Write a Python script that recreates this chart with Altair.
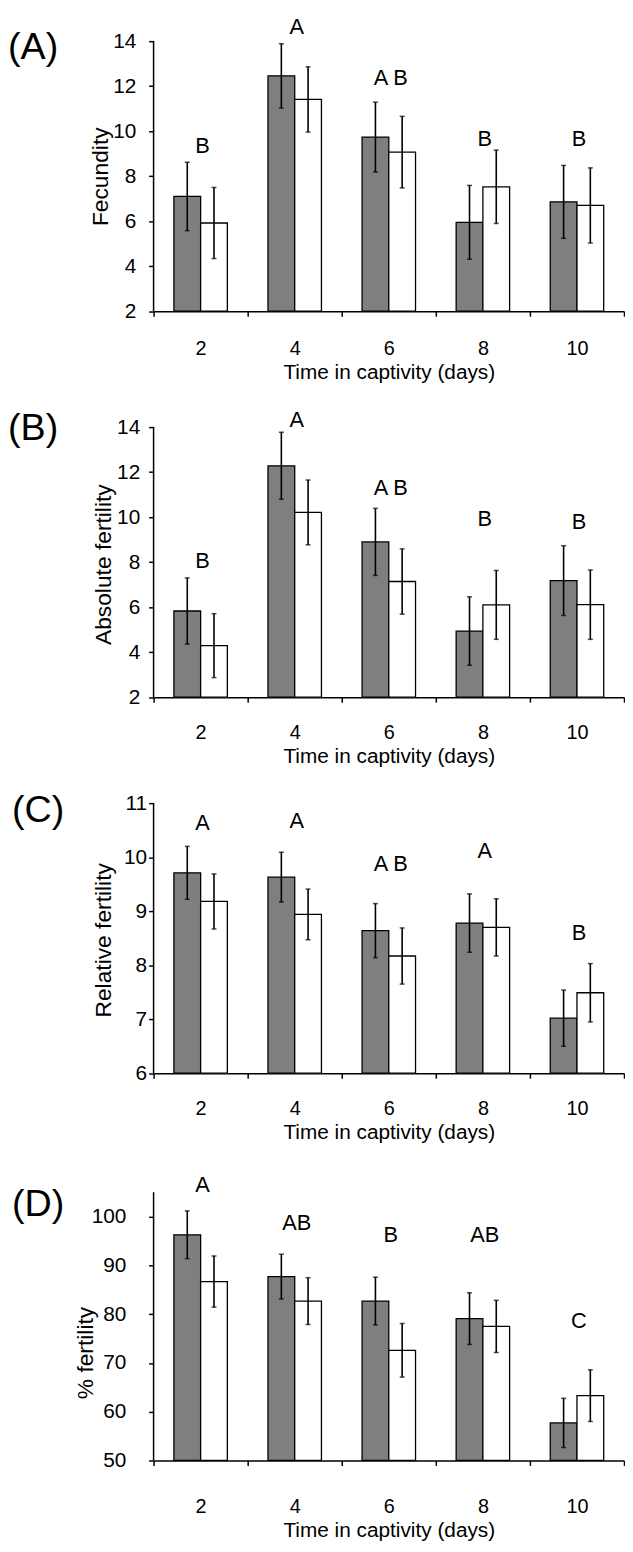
import altair as alt
import pandas as pd

FONT = "Liberation Sans"
days = ["2", "4", "6", "8", "10"]
groups = ["dark", "white"]

# Panel A - Fecundity
fec_dark = [7.10, 12.46, 9.74, 5.95, 6.86]
fec_dark_se = [1.52, 1.43, 1.55, 1.64, 1.62]
fec_white = [5.92, 11.41, 9.07, 7.53, 6.70]
fec_white_se = [1.58, 1.45, 1.59, 1.63, 1.67]
fec_letters = ["B", "A", "A B", "B", "B"]
fec_letter_y = [9.02, 14.33, 12.05, 9.33, 9.33]

# Panel B - Absolute fertility
abs_dark = [5.83, 12.28, 8.90, 4.94, 7.18]
abs_dark_se = [1.47, 1.49, 1.49, 1.52, 1.55]
abs_white = [4.29, 10.21, 7.14, 6.10, 6.11]
abs_white_se = [1.42, 1.44, 1.45, 1.53, 1.54]
abs_letters = ["B", "A", "A B", "B", "B"]
abs_letter_y = [7.75, 14.01, 10.99, 9.62, 9.47]

# Panel C - Relative fertility
rel_dark = [9.71, 9.63, 8.64, 8.78, 7.02]
rel_dark_se = [0.49, 0.46, 0.50, 0.54, 0.52]
rel_white = [9.18, 8.94, 8.17, 8.70, 7.49]
rel_white_se = [0.51, 0.47, 0.52, 0.53, 0.54]
rel_letters = ["A", "A", "A B", "A", "B"]
rel_letter_y = [10.51, 10.54, 9.74, 9.98, 8.46]

# Panel D - % fertility
pct_dark = [96.3, 87.7, 82.7, 79.1, 57.7]
pct_dark_se = [4.9, 4.6, 4.9, 5.3, 5.05]
pct_white = [86.7, 82.7, 72.6, 77.5, 63.3]
pct_white_se = [5.25, 4.8, 5.5, 5.35, 5.3]
pct_letters = ["A", "AB", "B", "AB", "C"]
pct_letter_y = [105.1, 97.3, 94.8, 94.8, 77.2]


def panel(dark, dark_se, white, white_se, letters, letter_y, ymin, ytop, yscale_top,
          ticks, ytitle, height, label, label_x, label_y, ylab_pad, ytitle_x, ytitle_y,
          xlab_pad, xtitle_y):
    rows = []
    for i, d in enumerate(days):
        rows.append(dict(day=d, group="dark", mean=dark[i], lo=dark[i] - dark_se[i],
                         hi=dark[i] + dark_se[i], base=ymin))
        rows.append(dict(day=d, group="white", mean=white[i], lo=white[i] - white_se[i],
                         hi=white[i] + white_se[i], base=ymin))
    df = pd.DataFrame(rows)
    ldf = pd.DataFrame(dict(day=days, letter=letters, ly=letter_y))
    adf = pd.DataFrame(dict(y0=[ymin], y1=[ytop]))
    pdf = pd.DataFrame(dict(t=[label]))

    xscale = alt.Scale(domain=days, paddingInner=0, paddingOuter=0)
    yscale = alt.Scale(domain=[ymin, yscale_top], zero=False, nice=False)
    offscale = alt.Scale(domain=groups, paddingInner=0, paddingOuter=0.76)

    xaxis = alt.Axis(title="Time in captivity (days)", tickBand="extent", labelAngle=0,
                     labelFontSize=20, labelPadding=xlab_pad, labelBaseline="alphabetic",
                     titleFontSize=21, titleFontWeight="normal", titleY=xtitle_y,
                     titleBaseline="alphabetic", tickSize=5, tickWidth=1.5,
                     domainWidth=1.5, domainColor="black", tickColor="black",
                     labelColor="black", titleColor="black", grid=False, labelFont=FONT,
                     titleFont=FONT)
    yaxis = alt.Axis(values=ticks, title=ytitle, domain=False, tickSize=5, tickWidth=1.5,
                     tickColor="black", labelColor="black", titleColor="black",
                     labelFontSize=21, labelPadding=ylab_pad, titleFontSize=23,
                     titleFontWeight="normal", titleX=ytitle_x, titleY=ytitle_y,
                     titleBaseline="alphabetic", grid=False, format="d",
                     labelFont=FONT, titleFont=FONT)

    def X():
        return alt.X("day:N", sort=days, scale=xscale, axis=xaxis)

    def Y(f):
        return alt.Y(f, scale=yscale, axis=yaxis)

    off_enc = alt.XOffset("group:N", scale=offscale)

    bars = alt.Chart(df).mark_bar(stroke="black", strokeWidth=1.3).encode(
        x=X(),
        xOffset=off_enc,
        y=Y("mean:Q"),
        y2="base:Q",
        fill=alt.Fill("group:N", scale=alt.Scale(domain=groups, range=["#7f7f7f", "#ffffff"]),
                      legend=None),
    )
    err = alt.Chart(df).mark_rule(color="black", strokeWidth=1.6).encode(
        x=X(), xOffset=off_enc, y=Y("lo:Q"), y2="hi:Q")
    cap_lo = alt.Chart(df).mark_tick(color="black", thickness=1.5, size=5, orient="horizontal").encode(
        x=X(), xOffset=off_enc, y=Y("lo:Q"))
    cap_hi = alt.Chart(df).mark_tick(color="black", thickness=1.5, size=5, orient="horizontal").encode(
        x=X(), xOffset=off_enc, y=Y("hi:Q"))
    let = alt.Chart(ldf).mark_text(fontSize=22, baseline="alphabetic", dx=2, font=FONT,
                                   color="black").encode(
        x=X(), y=Y("ly:Q"), text="letter:N")
    axline = alt.Chart(adf).mark_rule(color="black", strokeWidth=1.5).encode(
        x=alt.value(0), y=Y("y0:Q"), y2="y1:Q")
    plab = alt.Chart(pdf).mark_text(fontSize=38, align="left", baseline="alphabetic",
                                    font=FONT, color="black").encode(
        x=alt.value(label_x), y=alt.value(label_y), text="t:N")

    return alt.layer(bars, err, cap_lo, cap_hi, let, axline, plab).properties(
        width=475, height=height)


pA = panel(fec_dark, fec_dark_se, fec_white, fec_white_se, fec_letters, fec_letter_y,
           2, 14, 14, [2, 4, 6, 8, 10, 12, 14], "Fecundity", 272.7, "(A)", -147, 18,
           13, -47, 136.4, 39, 67.5)
pB = panel(abs_dark, abs_dark_se, abs_white, abs_white_se, abs_letters, abs_letter_y,
           2, 14, 14.4405, [2, 4, 6, 8, 10, 12, 14], "Absolute fertility", 282.7, "(B)",
           -147, 23, 9, -44, 148.4, 37, 65.5)
pC = panel(rel_dark, rel_dark_se, rel_white, rel_white_se, rel_letters, rel_letter_y,
           6, 11, 11, [6, 7, 8, 9, 10, 11], "Relative fertility", 272.7, "(C)",
           -143, 19, 2, -44, 138, 37, 65.5)
pD = panel(pct_dark, pct_dark_se, pct_white, pct_white_se, pct_letters, pct_letter_y,
           50, 105, 107.7, [50, 60, 70, 80, 90, 100], "% fertility", 284.0, "(D)",
           -143, 37, 23, -62, 175, 48, 76.5)

chart = alt.vconcat(pA, pB, pC, pD, spacing=106.7, bounds="flush").properties(
    padding={"left": 0, "top": 0, "right": 0, "bottom": 0}
).configure(font=FONT).configure_view(stroke=None)

chart.save("out.html", embed_options={"renderer": "svg", "actions": False})
